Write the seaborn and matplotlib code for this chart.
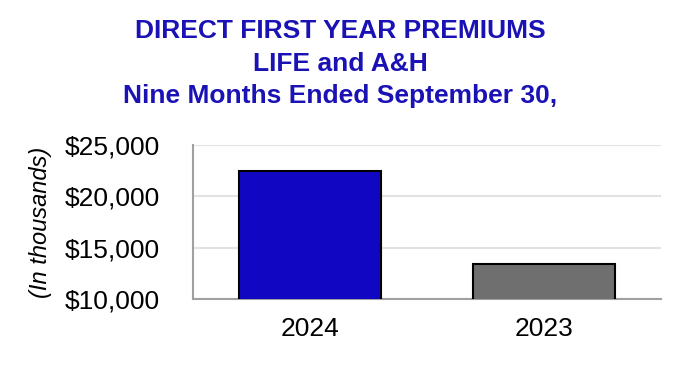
import matplotlib
matplotlib.use("Agg")
import matplotlib.pyplot as plt
import seaborn as sns
import pandas as pd
from matplotlib.ticker import FuncFormatter

# Direct first year premiums, Life and A&H (in thousands of dollars)
years = ["2024", "2023"]
premiums = [22450, 13450]
bar_colors = ["#1107C3", "#6F6F6F"]
title_lines = ["DIRECT FIRST YEAR PREMIUMS", "LIFE and A&H", "Nine Months Ended September 30,"]
y_ticks = [10000, 15000, 20000, 25000]

df = pd.DataFrame({"year": years, "premiums": premiums})

sns.set_theme(style="white")
plt.rcParams["font.family"] = ["Liberation Sans", "DejaVu Sans"]

W, H = 680, 366
fig = plt.figure(figsize=(W / 100, H / 100), dpi=100)
ax = fig.add_axes([193 / W, 1 - 299 / H, (661 - 193) / W, (299 - 145) / H])

sns.barplot(data=df, x="year", y="premiums", hue="year", palette=bar_colors,
            order=years, hue_order=years, width=0.61, edgecolor="black",
            linewidth=1.5, saturation=1, legend=False, ax=ax, zorder=3)

ax.set_ylim(y_ticks[0], y_ticks[-1])
ax.set_xlim(-0.5, 1.5)
ax.set_yticks(y_ticks)
ax.yaxis.set_major_formatter(FuncFormatter(lambda v, _: f"${v:,.0f}"))
ax.grid(axis="y", color="#E2E2E2", linewidth=1.5, zorder=0)
ax.set_axisbelow(True)

for side in ("top", "right"):
    ax.spines[side].set_visible(False)
for side in ("left", "bottom"):
    ax.spines[side].set_color("#A0A0A0")
    ax.spines[side].set_linewidth(1.5)

ax.tick_params(axis="y", labelsize=19, length=0, pad=24, colors="black")
ax.tick_params(axis="x", labelsize=19, length=0, pad=13, colors="black")
ax.set_xlabel("")
ax.set_ylabel("")

fig.text(41 / W, 1 - 222 / H, "(In thousands)", rotation=90, style="italic",
         fontsize=17, ha="center", va="center", color="black")

# three centred title lines, placed by baseline
for line, base in zip(title_lines, [38.5, 71, 103]):
    fig.text(340 / W, 1 - base / H, line, ha="center", va="baseline", fontsize=19,
             fontweight="bold", color="#1A12B4")

fig.savefig("out.png", dpi=100)
